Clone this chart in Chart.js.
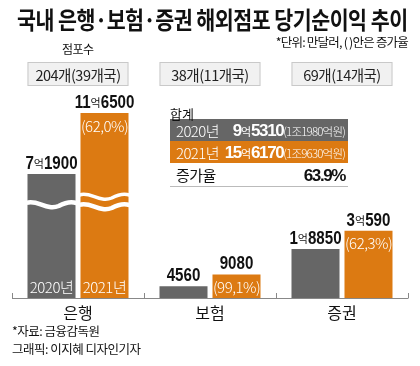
<!DOCTYPE html>
<html>
<head>
<meta charset="utf-8">
<script src="https://cdn.jsdelivr.net/npm/chart.js@4"></script>
<style>
  body { margin: 0; background: #fff; }
  #wrap { position: relative; width: 420px; height: 366px; overflow: hidden;
    font-family: "Noto Sans CJK KR", sans-serif; color: #111; }
  #wrap canvas { position: absolute; left: 0; top: 0; }
  .t { position: absolute; white-space: nowrap; line-height: 1; }
  #title { left: 17px; top: 7px; font-size: 24px; font-weight: 700; letter-spacing: -0.6px;
    transform-origin: left top; }
  #note { right: 12px; top: 36px; font-size: 12.5px; letter-spacing: -0.8px; }
  #stores { left: 62px; top: 43px; font-size: 12px; letter-spacing: -0.5px; }
  #sum { position: absolute; left: 170px; top: 104px; width: 178px; font-size: 15px; }
  #sum .hd { font-size: 13px; height: 15px; }
  #sum .row { height: 22px; display: flex; align-items: center; justify-content: space-between;
    padding: 0 3px 0 6px; color: #fff; font-weight: 300; letter-spacing: -0.6px; }
  #sum .g { background: #666; }
  #sum .o { background: #dc7a12; }
  #sum .r { color: #111; height: 23px; border-bottom: 1px solid #bbb; font-weight: 400; }
  #sum b { font-family: "Liberation Sans", sans-serif; font-weight: 700; font-size: 17px; letter-spacing: -1.4px; }
  #sum b i { font-family: "Noto Sans CJK KR", sans-serif; font-style: normal; font-weight: 400; font-size: 11px; letter-spacing: 0; }
  #sum small { font-size: 11.5px; letter-spacing: -0.8px; }
  #src { left: 12px; top: 325px; font-size: 12.5px; letter-spacing: -0.5px; }
  #credit { left: 12px; top: 343px; font-size: 12.5px; letter-spacing: -0.5px; }
</style>
</head>
<body>
<div id="wrap">
  <canvas id="myChart" width="420" height="366"></canvas>
  <div class="t" id="title">국내 은행·보험·증권 해외점포 당기순이익 추이</div>
  <div class="t" id="note">*단위: 만달러, ( )안은 증가율</div>
  <div class="t" id="stores">점포수</div>
  <div id="sum">
    <div class="hd">합계</div>
    <div class="row g"><span>2020년</span><span><b>9<i>억</i>5310</b><small>(1조1980억원)</small></span></div>
    <div class="row o"><span>2021년</span><span><b>15<i>억</i>6170</b><small>(1조9630억원)</small></span></div>
    <div class="row r"><span>증가율</span><span><b>63.9%</b></span></div>
  </div>
  <div class="t" id="src">*자료: 금융감독원</div>
  <div class="t" id="credit">그래픽: 이지혜 디자인기자</div>
</div>
<script>
const categories = ["은행", "보험", "증권"];
const storeCounts = ["204개(39개국)", "38개(11개국)", "69개(14개국)"];
const values2020 = [71900, 4560, 18850];
const values2021 = [116500, 9080, 30590];
const labels2020 = [["7", "1900"], ["", "4560"], ["1", "8850"]];
const labels2021 = [["11", "6500"], ["", "9080"], ["3", "590"]];
const growth = ["(62,0%)", "(99,1%)", "(62,3%)"];

const colors = {
  y2020: "#666666",
  y2021: "#dc7a12",
};

// 은행 막대는 축이 끊겨 있음: 일정 값 이상은 압축해서 그림
const breakAt = 20700;
const breakScale = 0.527;
const shown = (v) => (v <= breakAt ? v : breakAt + (v - breakAt) * breakScale);

// 제목 폭 맞추기
const titleEl = document.getElementById("title");
titleEl.style.transform = "scaleX(" + (391 / titleEl.offsetWidth).toFixed(3) + ")";

const numFont = '"Liberation Sans", sans-serif';
const krFont = '"Noto Sans CJK KR", sans-serif';
const squeeze = 0.84;

function drawValue(ctx, x, y, parts) {
  // parts[0] = 억 앞자리, parts[1] = 만 단위
  const big = "bold 18px " + numFont;
  const small = "11px " + krFont;
  ctx.font = big;
  const w0 = parts[0] ? ctx.measureText(parts[0]).width * squeeze : 0;
  const w2 = ctx.measureText(parts[1]).width * squeeze;
  ctx.font = small;
  const w1 = parts[0] ? ctx.measureText("억").width : 0;
  let sx = x - (w0 + w1 + w2) / 2;
  ctx.textAlign = "left";
  ctx.textBaseline = "alphabetic";
  ctx.fillStyle = "#111";
  const put = (txt, px) => {
    ctx.save();
    ctx.translate(px, y);
    ctx.scale(squeeze, 1);
    ctx.font = big;
    ctx.fillText(txt, 0, 0);
    ctx.restore();
  };
  if (parts[0]) {
    put(parts[0], sx);
    sx += w0;
    ctx.font = small;
    ctx.fillText("억", sx, y - 1);
    sx += w1;
  }
  put(parts[1], sx);
}

function wave(ctx, left, right, y) {
  const w = right - left;
  ctx.beginPath();
  ctx.moveTo(left - 1, y - 2);
  ctx.bezierCurveTo(left + w * 0.2, y - 6, left + w * 0.4, y + 6, left + w * 0.65, y + 1);
  ctx.bezierCurveTo(left + w * 0.8, y - 3, left + w * 0.9, y - 4, right + 1, y - 2);
  ctx.stroke();
}

const decor = {
  id: "decor",
  afterDatasetsDraw(chart) {
    const ctx = chart.ctx;
    const area = chart.chartArea;
    const xs = chart.scales.x;
    const m0 = chart.getDatasetMeta(0).data;
    const m1 = chart.getDatasetMeta(1).data;
    ctx.save();

    // 축선과 눈금
    ctx.strokeStyle = "#888";
    ctx.lineWidth = 1;
    ctx.beginPath();
    ctx.moveTo(area.left, area.bottom + 0.5);
    ctx.lineTo(area.right, area.bottom + 0.5);
    const step = xs.width / categories.length;
    for (let i = 0; i <= categories.length; i++) {
      const tx = Math.round(area.left + step * i) + 0.5;
      ctx.moveTo(tx, area.bottom - 5);
      ctx.lineTo(tx, area.bottom + 0.5);
    }
    ctx.stroke();

    categories.forEach((c, i) => {
      const b0 = m0[i], b1 = m1[i];
      const l = b0.x - b0.width / 2;
      const r = b1.x + b1.width / 2;

      // 점포수 상자
      ctx.fillStyle = "#f1f1f1";
      ctx.strokeStyle = "#c9c9c9";
      ctx.fillRect(l, 62, r - l, 24);
      ctx.strokeRect(l + 0.5, 62.5, r - l - 1, 23);
      ctx.fillStyle = "#222";
      ctx.font = "14.5px " + krFont;
      ctx.letterSpacing = "-0.5px";
      ctx.textAlign = "center";
      ctx.textBaseline = "middle";
      ctx.fillText(storeCounts[i], (l + r) / 2, 75);
      ctx.letterSpacing = "0px";

      // 카테고리 이름
      ctx.font = "16px " + krFont;
      ctx.fillStyle = "#111";
      ctx.fillText(c, xs.getPixelForValue(i), area.bottom + 15);

      drawValue(ctx, b0.x, b0.y - 5, labels2020[i]);
      drawValue(ctx, b1.x, b1.y - 5, labels2021[i]);

      ctx.font = "300 15px " + krFont;
      ctx.letterSpacing = "-0.5px";
      ctx.fillStyle = "#fff";
      ctx.textAlign = "center";
      ctx.textBaseline = "middle";
      ctx.fillText(growth[i], b1.x, b1.y + 13);
      ctx.letterSpacing = "0px";
    });

    // 끊김 표시 (은행)
    const b0 = m0[0], b1 = m1[0];
    ctx.strokeStyle = "#fff";
    ctx.lineWidth = 4.5;
    wave(ctx, b0.x - b0.width / 2, b0.x + b0.width / 2, 205);
    ctx.lineWidth = 3.5;
    wave(ctx, b1.x - b1.width / 2, b1.x + b1.width / 2, 197);
    ctx.lineWidth = 4.5;
    wave(ctx, b1.x - b1.width / 2, b1.x + b1.width / 2, 207);

    ctx.font = "300 15px " + krFont;
    ctx.letterSpacing = "-0.5px";
    ctx.fillStyle = "#fff";
    ctx.textAlign = "center";
    ctx.textBaseline = "middle";
    ctx.fillText("2020년", b0.x, area.bottom - 11);
    ctx.fillText("2021년", b1.x, area.bottom - 11);
    ctx.restore();
  },
};

const ctx = document.getElementById("myChart").getContext("2d");
new Chart(ctx, {
  type: "bar",
  data: {
    labels: categories,
    datasets: [
      {
        label: "2020년",
        data: values2020.map(shown),
        backgroundColor: colors.y2020,
        categoryPercentage: 0.803,
        barPercentage: 0.906,
      },
      {
        label: "2021년",
        data: values2021.map(shown),
        backgroundColor: colors.y2021,
        categoryPercentage: 0.803,
        barPercentage: 0.906,
      },
    ],
  },
  options: {
    responsive: false,
    animation: false,
    events: [],
    layout: { padding: { top: 64, bottom: 68, left: 12, right: 12 } },
    scales: {
      x: { display: false },
      y: { display: false, min: 0, max: 90000 },
    },
    plugins: {
      legend: { display: false },
      tooltip: { enabled: false },
    },
  },
  plugins: [decor],
});
</script>
</body>
</html>
